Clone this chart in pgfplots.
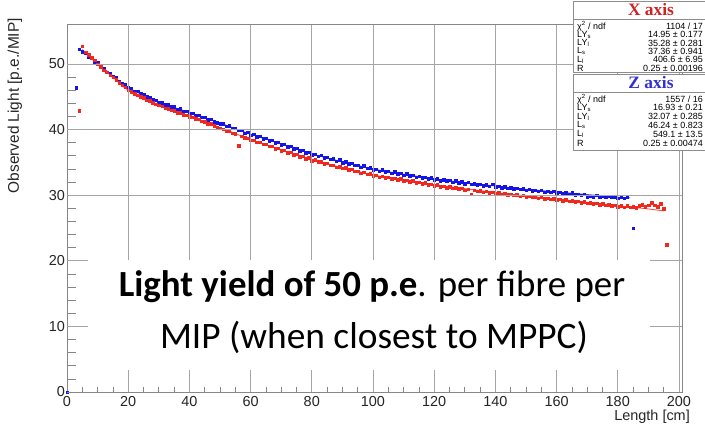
\documentclass[border=0pt]{standalone}
\usepackage{pgfplots}
\usepackage{pgfplotstable}
\pgfplotsset{compat=1.18}
\usepackage{fontspec}
\setmainfont{Liberation Sans}
\newfontfamily\carlito{Carlito}
\newfontfamily\timesf{Liberation Serif}
\definecolor{dblue}{RGB}{20,20,230}
\definecolor{dred}{RGB}{240,40,30}
\definecolor{axgray}{RGB}{135,135,135}
\definecolor{xred}{RGB}{205,35,35}
\definecolor{zblue}{RGB}{50,50,205}
\definecolor{gridgray}{RGB}{165,165,165}

% X axis series (blue points)
\pgfplotstableread{
x y
0 0
3 46.4
4 52.3
5 51.9
6 51.7
7 51.1
8 51.0
9 50.4
10 50.2
11 49.6
12 49.4
13 48.8
14 48.6
15 48.1
16 47.9
17 47.4
18 47.0
19 46.9
20 46.4
21 46.3
22 45.9
23 45.9
24 45.5
25 45.4
26 45.0
27 44.9
28 44.6
29 44.5
30 44.2
31 44.1
32 43.8
33 43.8
34 43.5
35 43.5
36 43.1
37 43.2
38 42.8
39 42.8
40 42.5
41 42.5
42 42.2
43 42.2
44 41.9
45 41.9
46 41.5
47 41.6
48 41.2
49 41.1
50 40.9
51 40.9
52 40.5
53 40.6
54 40.2
55 40.2
56 39.9
57 39.9
58 39.5
59 39.6
60 39.2
61 39.3
62 38.9
63 39.0
64 38.6
65 38.7
66 38.3
67 38.4
68 38.0
69 38.1
70 37.7
71 37.8
72 37.4
73 37.5
74 37.1
75 37.2
76 36.8
77 36.9
78 36.5
79 36.6
80 36.2
81 36.3
82 36.0
83 36.1
84 35.7
85 35.8
86 35.5
87 35.6
88 35.2
89 35.4
90 35.0
91 35.1
92 34.8
93 34.9
94 34.6
95 34.6
96 34.3
97 34.5
98 34.1
99 34.2
100 33.9
101 34.0
102 33.7
103 33.9
104 33.6
105 33.7
106 33.4
107 33.6
108 33.3
109 33.4
110 33.1
111 33.3
112 33.0
113 33.1
114 32.8
115 32.9
116 32.7
117 32.8
118 32.5
119 32.7
120 32.4
121 32.5
122 32.2
123 32.4
124 32.2
125 32.3
126 32.0
127 32.2
128 31.9
129 32.1
130 31.8
131 32.0
132 31.7
133 31.8
134 31.6
135 31.7
136 31.5
137 31.6
138 31.4
139 31.7
140 31.3
141 31.4
142 31.2
143 31.3
144 31.1
145 31.2
146 31.0
147 31.1
148 30.9
149 31.0
150 30.8
151 30.9
152 30.7
153 30.8
154 30.6
155 30.8
156 30.5
157 30.6
158 30.5
159 30.6
160 30.4
161 30.5
162 30.3
163 30.4
164 30.2
165 30.4
166 30.1
167 30.2
168 30.0
169 30.2
170 29.8
171 29.9
172 29.8
173 30.0
174 29.8
175 29.9
176 29.7
177 29.9
178 29.7
179 29.8
180 29.6
181 29.8
182 29.6
183 29.7
185 25.0
}\bluedata

% Z axis series (red points)
\pgfplotstableread{
x y
4 42.9
5 52.7
6 51.8
7 51.4
8 51.0
9 50.6
10 50.0
11 49.6
12 49.1
13 48.8
14 48.3
15 48.0
16 47.6
17 47.2
18 46.8
19 46.5
20 46.0
21 45.8
22 45.5
23 45.3
24 45.0
25 44.9
26 44.5
27 44.4
28 44.1
29 43.9
30 43.7
31 43.6
32 43.3
33 43.2
34 43.0
35 42.9
36 42.6
37 42.6
38 42.3
39 42.2
40 42.0
41 41.9
42 41.7
43 41.6
44 41.3
45 41.2
46 40.9
47 40.9
48 40.6
49 40.4
50 40.2
51 40.1
52 39.8
53 39.8
54 39.5
55 39.4
56 37.6
57 39.0
58 38.8
59 38.7
60 38.4
61 38.4
62 38.1
63 38.1
64 37.8
65 37.8
66 37.5
67 37.5
68 37.1
69 37.2
70 36.8
71 36.9
72 36.5
73 36.6
74 36.2
75 36.3
76 35.9
77 36.0
78 35.6
79 35.7
80 35.3
81 35.4
82 35.1
83 35.1
84 34.8
85 34.9
86 34.6
87 34.6
88 34.3
89 34.4
90 34.1
91 34.2
92 33.9
93 34.0
94 33.7
95 33.7
96 33.4
97 33.5
98 33.2
99 33.3
100 33.0
101 33.1
102 32.8
103 32.9
104 32.7
105 32.8
106 32.5
107 32.6
108 32.4
109 32.5
110 32.2
111 32.3
112 32.1
113 32.2
114 31.9
115 32.0
116 31.8
117 31.9
118 31.6
119 31.7
120 31.5
121 31.6
122 31.3
123 31.4
124 31.2
125 31.3
126 31.1
127 31.2
128 31.0
129 31.1
130 30.8
131 30.9
132 30.2
133 30.8
134 30.6
135 30.7
136 30.5
137 30.6
138 30.4
139 30.5
140 30.3
141 30.4
142 30.2
143 30.3
144 30.1
145 30.2
146 30.0
147 30.1
148 29.9
149 30.0
150 29.8
151 29.9
152 29.7
153 29.8
154 29.6
155 29.7
156 29.5
157 29.6
158 29.4
159 29.5
160 29.3
161 29.4
162 29.2
163 29.3
164 29.1
165 29.2
166 29.0
167 29.1
168 28.9
169 29.0
170 28.8
171 28.9
172 28.7
173 28.8
174 28.6
175 28.7
176 28.5
177 28.6
178 28.4
179 28.5
180 28.3
181 28.4
182 28.2
183 28.4
184 28.2
185 28.3
186 28.1
187 28.4
188 28.6
189 28.3
190 28.5
191 28.9
192 28.5
193 28.3
194 28.7
195 28.0
196 22.5
}\reddata

% fitted curves
\pgfplotstableread{
x y
5 52.0
10 50.1
15 48.2
20 46.4
30 44.2
40 42.6
50 41.0
60 39.3
70 37.8
80 36.3
90 35.1
100 34.0
110 33.2
120 32.5
130 31.9
140 31.4
150 30.9
160 30.5
170 30.1
180 29.7
184 29.6
}\bluefit
\pgfplotstableread{
x y
5 52.2
10 50.0
15 48.0
20 46.0
30 43.7
40 42.0
50 40.3
60 38.5
70 36.9
80 35.4
90 34.2
100 33.1
110 32.3
120 31.6
130 31.0
140 30.4
150 29.9
160 29.4
170 28.9
180 28.4
190 27.9
195 27.6
}\redfit

\begin{document}
\begin{tikzpicture}[x=1bp,y=1bp]
\useasboundingbox (0,0) rectangle (705,426);
\fill[white] (0,0) rectangle (705,426);
\begin{axis}[
  at={(67bp,34bp)}, anchor=origin,
  scale only axis, width=615bp, height=367.4bp,
  xmin=0, xmax=201, ymin=0, ymax=56,
  xtick={0,20,...,200}, ytick={0,10,...,50},
  minor x tick num=3, minor y tick num=4,
  tick align=inside, xtick pos=bottom, ytick pos=left,
  major tick length=10bp, minor tick length=5bp,
  ytick style={draw=none},
  axis line style={axgray, line width=0.8bp},
  tick style={axgray, line width=0.7bp},
  /pgf/number format/assume math mode=true,
  ticklabel style={font=\fontsize{14.5}{14.5}\selectfont, text=black!85},
  yticklabel style={xshift=1.5bp},
  xticklabel style={yshift=-0.5bp},
  clip=false,
]
\addplot[no marks, smooth, dblue!80, line width=0.8bp] table {\bluefit};
\addplot[no marks, smooth, dred!85, line width=0.8bp] table {\redfit};
\addplot[dblue, only marks, mark=square*, mark size=1.25bp, mark options={fill=dblue, draw=dblue, line width=0.1bp}] table {\bluedata};
\addplot[dred, only marks, mark=square*, mark size=1.25bp, mark options={fill=dred, draw=dred, line width=0.1bp}] table {\reddata};
\end{axis}
% longer y-axis ticks (ROOT style), same frame
\begin{axis}[
  at={(67bp,34bp)}, anchor=origin,
  scale only axis, width=615bp, height=367.4bp,
  xmin=0, xmax=201, ymin=0, ymax=56,
  hide x axis, axis y line*=left,
  ytick={0,10,...,50}, minor y tick num=4, yticklabels={},
  tick align=inside,
  major tick length=18bp, minor tick length=9bp,
  tick style={axgray, line width=0.7bp},
  axis line style={draw=none},
]
\addplot[draw=none] coordinates {(0,0)};
\end{axis}

% light grid lines at the major ticks (frame: x 67..682, y 34..401.4)
\foreach \gx in {128.19,189.39,250.58,311.78,372.97,434.16,495.36,556.55,617.75,678.94}{
  \draw[gridgray, line width=0.8bp] (\gx,34) -- (\gx,401.4);
}
\foreach \gy in {99.61,165.21,230.82,296.43,362.04}{
  \draw[gridgray, line width=0.8bp] (67,\gy) -- (682,\gy);
}

% axis titles
\node[rotate=90, anchor=east, inner sep=0pt, font=\fontsize{15.5}{15.5}\selectfont, text=black!85] at (15,408) {Observed Light [p.e./MIP]};
\node[anchor=east, inner sep=0pt, font=\fontsize{14.5}{14.5}\selectfont, text=black!85] at (690,9) {Length [cm]};

% overlay text box
\fill[white] (88,56) rectangle (650,166);
\node[font=\carlito\fontsize{37}{37}\selectfont, inner sep=0pt] at (372,139) {\textbf{Light yield of 50 p.e}. per fibre per};
\node[font=\carlito\fontsize{37.5}{37.5}\selectfont, inner sep=0pt] at (374,89) {MIP (when closest to MPPC)};

% statistics boxes
\filldraw[fill=white, draw=black!45, line width=0.7bp] (573,354) rectangle (712,425);
\draw[black!45, line width=0.7bp] (573,407) -- (712,407);
\node[font=\timesf\bfseries\fontsize{17.5}{17.5}\selectfont, text=xred, inner sep=0pt] at (651,416.5) {X axis};
\begin{scope}[every node/.style={inner sep=0pt, font=\fontsize{9}{9}\selectfont}]
\node[anchor=west] at (577,399.5) {χ\textsuperscript{2} / ndf};
\node[anchor=east] at (703,399.5) {1104 / 17};
\node[anchor=west] at (577,391.2) {LY\textsubscript{s}};
\node[anchor=east] at (703,391.2) {14.95 ± 0.177};
\node[anchor=west] at (577,382.9) {LY\textsubscript{l}};
\node[anchor=east] at (703,382.9) {35.28 ± 0.281};
\node[anchor=west] at (577,374.6) {L\textsubscript{s}};
\node[anchor=east] at (703,374.6) {37.36 ± 0.941};
\node[anchor=west] at (577,366.3) {L\textsubscript{l}};
\node[anchor=east] at (703,366.3) {406.6 ± 6.95};
\node[anchor=west] at (577,358) {R};
\node[anchor=east] at (703,358) {0.25 ± 0.00196};
\end{scope}

\filldraw[fill=white, draw=black!45, line width=0.7bp] (573,276) rectangle (712,352);
\draw[black!45, line width=0.7bp] (573,334) -- (712,334);
\node[font=\timesf\bfseries\fontsize{17.5}{17.5}\selectfont, text=zblue, inner sep=0pt] at (651,343.5) {Z axis};
\begin{scope}[every node/.style={inner sep=0pt, font=\fontsize{9}{9}\selectfont}]
\node[anchor=west] at (577,327) {χ\textsuperscript{2} / ndf};
\node[anchor=east] at (703,327) {1557 / 16};
\node[anchor=west] at (577,318.2) {LY\textsubscript{s}};
\node[anchor=east] at (703,318.2) {16.93 ± 0.21};
\node[anchor=west] at (577,309.4) {LY\textsubscript{l}};
\node[anchor=east] at (703,309.4) {32.07 ± 0.285};
\node[anchor=west] at (577,300.6) {L\textsubscript{s}};
\node[anchor=east] at (703,300.6) {46.24 ± 0.823};
\node[anchor=west] at (577,291.8) {L\textsubscript{l}};
\node[anchor=east] at (703,291.8) {549.1 ± 13.5};
\node[anchor=west] at (577,283) {R};
\node[anchor=east] at (703,283) {0.25 ± 0.00474};
\end{scope}
\end{tikzpicture}
\end{document}
